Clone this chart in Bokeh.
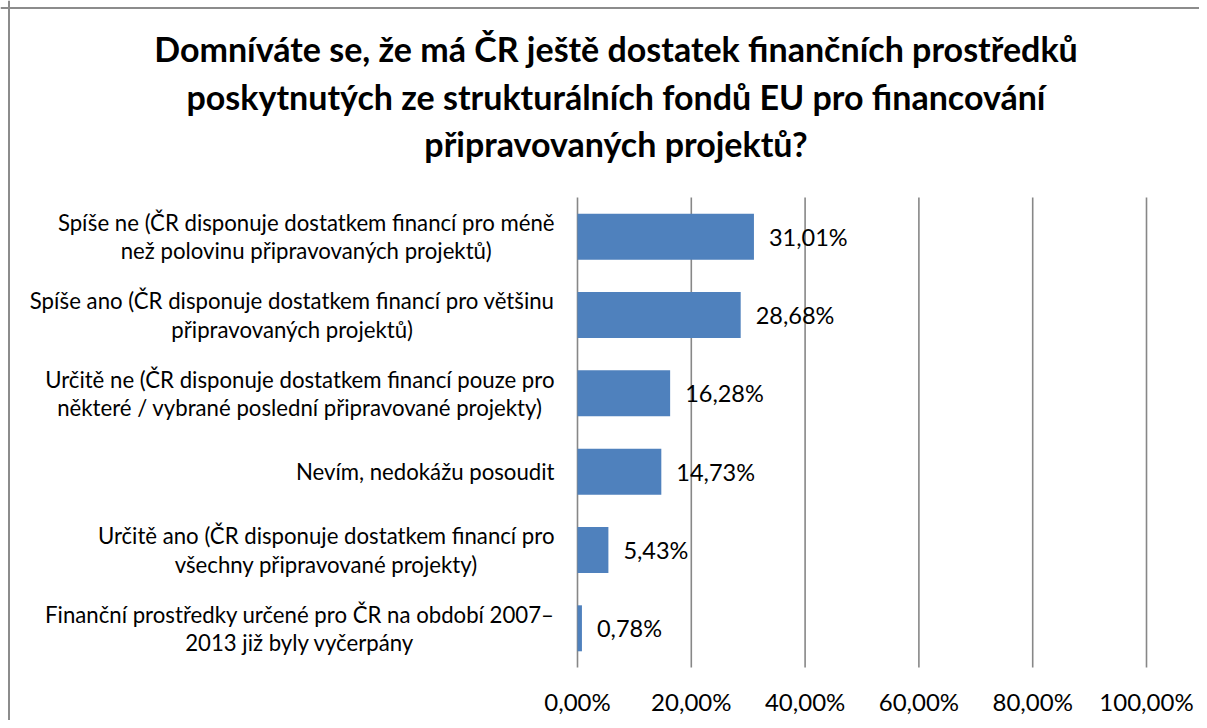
from bokeh.plotting import figure
from bokeh.models import ColumnDataSource, Span
from bokeh.core.properties import value
from bokeh.embed import file_html
from bokeh.resources import INLINE

# ---- data ----
categories = [
    "Spíše ne (ČR disponuje dostatkem financí pro méně\nnež polovinu připravovaných projektů)",
    "Spíše ano (ČR disponuje dostatkem financí pro většinu\npřipravovaných projektů)",
    "Určitě ne (ČR disponuje dostatkem financí pouze pro\nněkteré / vybrané poslední připravované projekty)",
    "Nevím, nedokážu posoudit",
    "Určitě ano (ČR disponuje dostatkem financí pro\nvšechny připravované projekty)",
    "Finanční prostředky určené pro ČR na období 2007–\n2013 již byly vyčerpány",
]
values = [31.01, 28.68, 16.28, 14.73, 5.43, 0.78]
tick_values = [0, 20, 40, 60, 80, 100]
tick_labels = ["0,00%", "20,00%", "40,00%", "60,00%", "80,00%", "100,00%"]
title_lines = [
    "Domníváte se, že má ČR ještě dostatek finančních prostředků",
    "poskytnutých ze strukturálních fondů EU pro financování",
    "připravovaných projektů?",
]

# ---- layout (pixel geometry of the chart) ----
W, H = 1199, 720
PX_PER_X = 5.69          # pixels per percent
PX_PER_ROW = 78.33       # pixels per category row
ZERO_PX = 577            # x pixel of 0 %
LAST_ROW_PX = 627.8      # y pixel of the bottom row centre

def px_x(px):
    return (px - ZERO_PX) / PX_PER_X

def px_y(py):
    return (LAST_ROW_PX - py) / PX_PER_ROW

X_START, X_END = px_x(0), px_x(W)
Y_START, Y_END = px_y(H), px_y(0)

FONT = value("Lato")
BAR_COLOR = "#4F81BD"
GRID_COLOR = "#878787"
BORDER_COLOR = "#8c8c8c"

n = len(categories)
rows = [n - 1 - i for i in range(n)]
value_labels = [f"{v:.2f}".replace(".", ",") + "%" for v in values]

p = figure(width=W, height=H, output_backend="svg", toolbar_location=None,
           x_range=(X_START, X_END), y_range=(Y_START, Y_END),
           x_axis_location=None, y_axis_location=None,
           min_border=0, outline_line_color=None,
           background_fill_color="white", border_fill_color="white")
p.grid.visible = False

# chart-area border (left and top edges; the others lie outside the view)
p.add_layout(Span(location=px_x(8.5), dimension="height",
                  line_color=BORDER_COLOR, line_width=2))
p.add_layout(Span(location=px_y(7.5), dimension="width",
                  line_color=BORDER_COLOR, line_width=2))

# gridlines + tick labels
grid_src = ColumnDataSource(dict(x=tick_values, y0=[-0.5] * len(tick_values),
                                 y1=[n - 0.5] * len(tick_values), lab=tick_labels))
p.segment(x0="x", y0="y0", x1="x", y1="y1", source=grid_src,
          line_color=GRID_COLOR, line_width=1.6)
p.text(x="x", y="y0", text="lab", source=grid_src, y_offset=34,
       text_font=FONT, text_font_size="24px", text_color="black",
       text_align="center", text_baseline="middle")

# bars
src = ColumnDataSource(dict(y=rows, v=values, lab=value_labels, cat=categories,
                            lx=[px_x(554)] * n))
p.hbar(y="y", left=0, right="v", height=0.587, source=src,
       fill_color=BAR_COLOR, line_color=None)

# value labels
p.text(x="v", y="y", text="lab", source=src, x_offset=15,
       text_font=FONT, text_font_size="23.5px", text_color="black",
       text_align="left", text_baseline="middle")

# category labels
p.text(x="lx", y="y", text="cat", source=src, anchor="center_right",
       text_align="center", text_baseline="middle", text_line_height=1.04,
       text_font=FONT, text_font_size="22.2px", text_color="black")

# title
title_src = ColumnDataSource(dict(x=[px_x(615.5)] * 3,
                                  y=[px_y(yy) for yy in (48, 95.5, 143)],
                                  t=title_lines))
p.text(x="x", y="y", text="t", source=title_src,
       text_font=FONT, text_font_size="34px", text_font_style="bold",
       text_color="black", text_align="center", text_baseline="middle")

open("out.html", "w").write(file_html(p, INLINE))
